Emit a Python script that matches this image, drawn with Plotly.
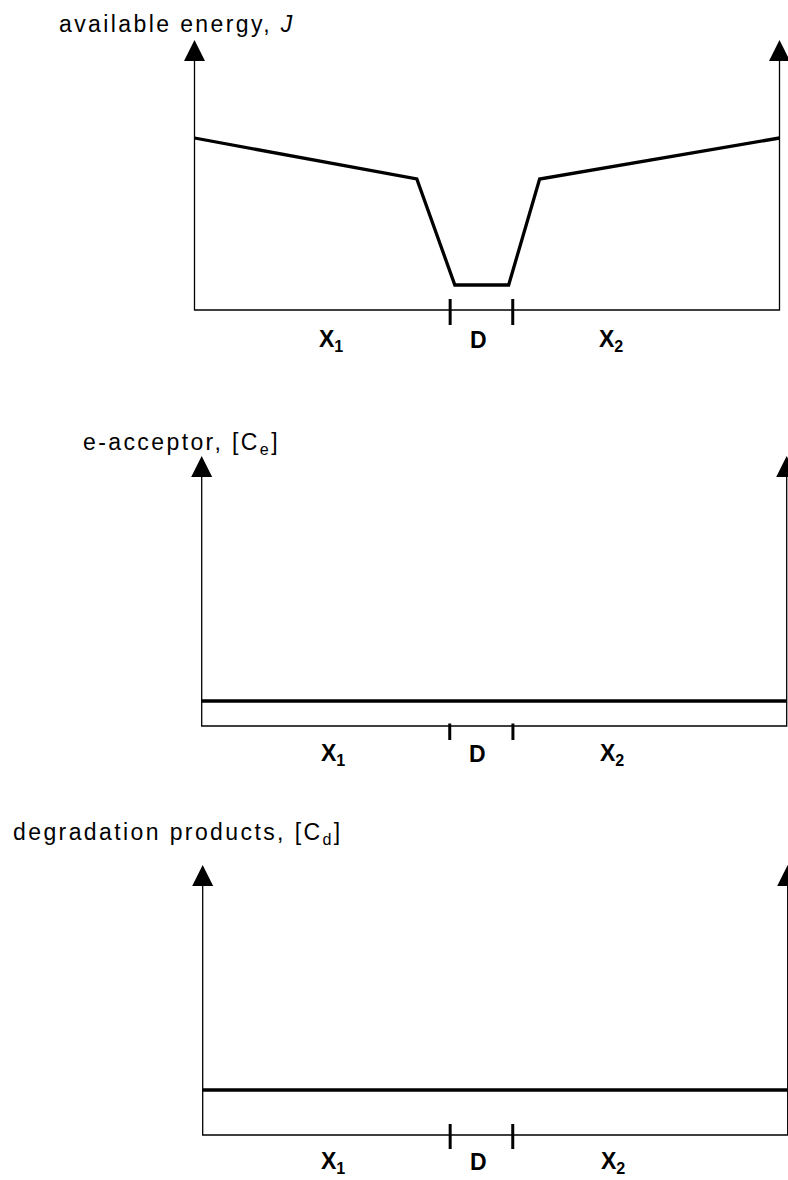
import plotly.graph_objects as go

W, H = 788, 1180

# ---------------- data (distance along profile 0..100, level in arbitrary units) ----------------
energy_dist = [0, 38.0, 44.5, 53.7, 59.0, 100]
energy_level = [17.2, 13.1, 2.5, 2.5, 13.1, 17.2]

acceptor_dist = [0, 100]
acceptor_level = [2.5, 2.5]

products_dist = [0, 100]
products_level = [4.5, 4.5]

d_bounds_energy = [43.7, 54.4]
d_bounds_acceptor = [42.4, 53.2]
d_bounds_products = [42.3, 53.0]

zone_labels = ["<b>X<sub>1</sub></b>", "<b>D</b>", "<b>X<sub>2</sub></b>"]
zone_pos_energy = [23.3, 48.5, 71.2]
zone_pos_acceptor = [22.4, 47.1, 70.2]
zone_pos_products = [22.3, 47.1, 70.1]

titles = ["available energy, <i>J</i>",
          "e-acceptor, [C<sub>e</sub>]",
          "degradation products, [C<sub>d</sub>]"]

axis_top = 27  # level at arrow tip

# ---------------- layout geometry (pixels) ----------------
SX, SY = 5.85, 10.0
panels = [
    dict(left=194.5, base=310, band=(0, 390), title_xy=(57, 24), tick=(1.1, 1.5), lab_dy=3.0,
         dist=energy_dist, level=energy_level, bounds=d_bounds_energy, zpos=zone_pos_energy),
    dict(left=201.7, base=726, band=(390, 790), title_xy=(81, 443), tick=(0.25, 1.4), lab_dy=2.8,
         dist=acceptor_dist, level=acceptor_level, bounds=d_bounds_acceptor, zpos=zone_pos_acceptor),
    dict(left=202.7, base=1135, band=(790, 1180), title_xy=(11, 833), tick=(1.1, 1.4), lab_dy=2.7,
         dist=products_dist, level=products_level, bounds=d_bounds_products, zpos=zone_pos_products),
]

FONT = "Liberation Sans, Arial, sans-serif"
fig = go.Figure()
annotations = []

for i, p in enumerate(panels, start=1):
    xa = "x" if i == 1 else f"x{i}"
    ya = "y" if i == 1 else f"y{i}"
    L, B = p["left"], p["base"]
    top, bot = p["band"]
    fig.layout[f"xaxis{'' if i == 1 else i}"] = dict(
        domain=[0, 1], range=[(0 - L) / SX, (W - L) / SX], visible=False, fixedrange=True)
    fig.layout[f"yaxis{'' if i == 1 else i}"] = dict(
        domain=[1 - bot / H, 1 - top / H], range=[(B - bot) / SY, (B - top) / SY],
        visible=False, fixedrange=True)

    x0, x1 = 0, 100
    # frame: left axis, baseline, right axis
    fig.add_trace(go.Scatter(
        x=[x0, x0, x1, x1], y=[axis_top - 1, 0, 0, axis_top - 1], mode="lines",
        line=dict(color="black", width=1.3), xaxis=xa, yaxis=ya, hoverinfo="skip"))
    # arrow heads
    fig.add_trace(go.Scatter(
        x=[x0, x1], y=[axis_top, axis_top], mode="markers",
        marker=dict(symbol="arrow-up", size=21, color="black", line=dict(width=0)),
        cliponaxis=False, xaxis=xa, yaxis=ya, hoverinfo="skip"))
    # profile curve
    fig.add_trace(go.Scatter(
        x=p["dist"], y=p["level"], mode="lines",
        line=dict(color="black", width=3.3), xaxis=xa, yaxis=ya, hoverinfo="skip"))
    # D-zone boundary ticks
    up, down = p["tick"]
    tx, ty = [], []
    for b in p["bounds"]:
        tx += [b, b, None]
        ty += [up, -down, None]
    fig.add_trace(go.Scatter(
        x=tx, y=ty, mode="lines", line=dict(color="black", width=3),
        xaxis=xa, yaxis=ya, hoverinfo="skip"))
    # zone labels
    for lab, zx in zip(zone_labels, p["zpos"]):
        annotations.append(dict(
            x=zx, y=-p["lab_dy"], xref=xa, yref=ya, text=lab, showarrow=False,
            xanchor="center", yanchor="middle",
            font=dict(family=FONT, size=23, color="black")))
    # title
    tx_, ty_ = p["title_xy"]
    annotations.append(dict(
        x=tx_ / W, y=1 - ty_ / H, xref="paper", yref="paper",
        text=f'<span style="letter-spacing:2.4px">{titles[i - 1]}</span>',
        showarrow=False, xanchor="left", yanchor="middle",
        font=dict(family=FONT, size=23, color="black")))

fig.update_layout(
    width=W, height=H, margin=dict(l=0, r=0, t=0, b=0),
    paper_bgcolor="white", plot_bgcolor="white", showlegend=False,
    annotations=annotations)

fig.write_html("out.html", config={"displayModeBar": False},
               post_script="document.body.style.margin='0';document.body.style.padding='0';")
